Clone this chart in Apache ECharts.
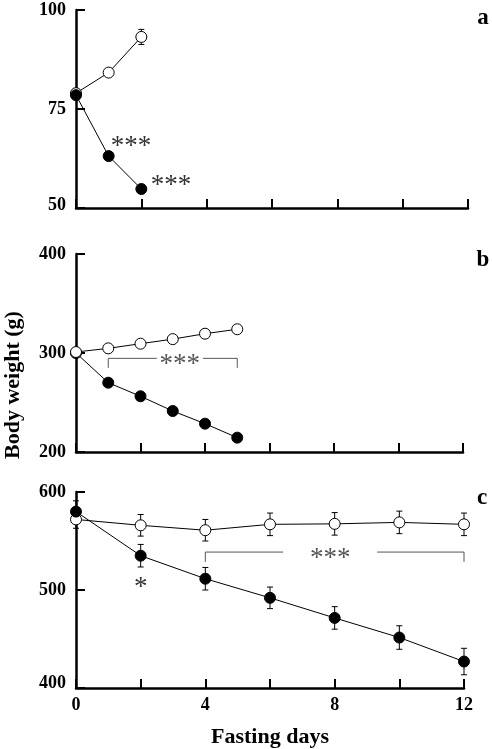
<!DOCTYPE html>
<html><head><meta charset="utf-8">
<script src="https://cdn.jsdelivr.net/npm/echarts@6/dist/echarts.min.js"></script>
<style>html,body{margin:0;padding:0;background:#fff}#c{width:492px;height:749px}</style>
</head><body><div id="c"></div>
<script>
// ---- data ----
var daysA = [0, 1, 2];
var controlA = [79.0, 84.2, 93.2];
var controlAErr = [0, 0, 1.9];
var fastA = [78.5, 63.1, 54.8];
var fastAErr = [0, 0, 0];

var daysB = [0, 1, 2, 3, 4, 5];
var controlB = [301, 304.7, 309.4, 314, 319.5, 324];
var fastB = [300, 270, 256.3, 241.4, 228.6, 214.5];

var daysC = [0, 2, 4, 6, 8, 10, 12];
var controlC = [572, 566, 561, 567, 567.5, 569, 567];
var controlCErr = [9, 11, 11, 11.5, 11.5, 11.5, 11.5];
var fastC = [580, 535, 511.5, 492, 471.5, 451.5, 427];
var fastCErr = [11, 11.5, 11.5, 11, 11.5, 12, 13.5];

var yTicksA = [50, 75, 100];
var yTicksB = [200, 300, 400];
var yTicksC = [400, 500, 600];
var xTickLabels = [0, 4, 8, 12];

var FONT = '"Liberation Serif","DejaVu Serif",serif';
var STARFONT = '27px ' + FONT;

function zip(xs, ys) { return xs.map(function (x, i) { return [x, ys[i]]; }); }
function zip3(xs, ys, es) { return xs.map(function (x, i) { return [x, ys[i], es[i]]; }); }

function errSeries(idx, data) {
  return {
    type: 'custom', xAxisIndex: idx, yAxisIndex: idx, z: 1, silent: true,
    data: data,
    renderItem: function (params, api) {
      var x = api.value(0), y = api.value(1), e = api.value(2);
      if (!e) return null;
      var hi = api.coord([x, y + e]), lo = api.coord([x, y - e]);
      var w = 3;
      var st = { stroke: '#000', lineWidth: 1 };
      return { type: 'group', children: [
        { type: 'line', shape: { x1: hi[0], y1: hi[1], x2: lo[0], y2: lo[1] }, style: st },
        { type: 'line', shape: { x1: hi[0] - w, y1: hi[1], x2: hi[0] + w, y2: hi[1] }, style: st },
        { type: 'line', shape: { x1: lo[0] - w, y1: lo[1], x2: lo[0] + w, y2: lo[1] }, style: st }
      ]};
    }
  };
}

function lineSeries(idx, data, open, z) {
  return {
    type: 'line', xAxisIndex: idx, yAxisIndex: idx, data: data, z: z,
    symbol: 'circle', symbolSize: 11, clip: false, animation: false,
    lineStyle: { color: '#000', width: 1 },
    itemStyle: open ? { color: '#fff', borderColor: '#000', borderWidth: 1 } : { color: '#000', borderColor: '#000', borderWidth: 1 }
  };
}

// bracket annotations: [x1, x2, yTop, yEnd, textX]
var bracketB = [[1, 5, 294.6, 285, 3.22]];
var bracketC = [[4, 12, 538.7, 528.7, 7.86]];

function bracketSeries(idx, data, gapHalf) {
  return {
    type: 'custom', xAxisIndex: idx, yAxisIndex: idx, z: 1, silent: true,
    data: data,
    renderItem: function (params, api) {
      var x1 = api.value(0), x2 = api.value(1), yt = api.value(2), ye = api.value(3), tx = api.value(4);
      var a = api.coord([x1, ye]), b = api.coord([x1, yt]), c = api.coord([x2, yt]), d = api.coord([x2, ye]);
      var t = api.coord([tx, yt]);
      var st = { stroke: '#555', lineWidth: 1, fill: null };
      return { type: 'group', children: [
        { type: 'polyline', shape: { points: [a, b, [t[0] - gapHalf, b[1]]] }, style: st },
        { type: 'polyline', shape: { points: [[t[0] + gapHalf, c[1]], c, d] }, style: st },
        { type: 'text', style: { x: t[0], y: t[1] + 7, text: '***', fill: '#555', font: STARFONT, align: 'center', verticalAlign: 'middle' } }
      ]};
    }
  };
}

// star annotations: [x, y, text]
var starsA = [[1.68, 65.5, '***'], [2.91, 55.6, '***']];
var starsC = [[2, 502, '*']];

function starSeries(idx, data) {
  return {
    type: 'custom', xAxisIndex: idx, yAxisIndex: idx, z: 5, silent: true,
    data: data,
    renderItem: function (params, api) {
      var p = api.coord([api.value(0), api.value(1)]);
      return { type: 'text', style: { x: p[0], y: p[1], text: data[params.dataIndex][2], fill: '#333', font: STARFONT, align: 'center', verticalAlign: 'middle' } };
    }
  };
}

function xAx(idx, showLabels) {
  return {
    type: 'value', gridIndex: idx, min: 0, max: 12, interval: 2,
    axisLine: { show: true, onZero: false, lineStyle: { color: '#000', width: 2.5 } },
    axisTick: { show: true, inside: true, length: 9, lineStyle: { color: '#000', width: 2 } },
    splitLine: { show: false },
    axisLabel: showLabels ? {
      show: true, margin: 8, color: '#000', fontFamily: FONT, fontWeight: 'bold', fontSize: 18,
      formatter: function (v) { return xTickLabels.indexOf(v) >= 0 ? String(v) : ''; }
    } : { show: false },
    name: showLabels ? 'Fasting days' : '', nameLocation: 'middle', nameGap: 38,
    nameTextStyle: { color: '#000', fontFamily: FONT, fontWeight: 'bold', fontSize: 22 }
  };
}

function yAx(idx, ticks, shiftMin) {
  var mn = ticks[0], mx = ticks[ticks.length - 1];
  return {
    type: 'value', gridIndex: idx, min: mn, max: mx, interval: ticks[1] - ticks[0],
    axisLine: { show: true, onZero: false, lineStyle: { color: '#000', width: 2.5 } },
    axisTick: { show: true, inside: true, length: 9, lineStyle: { color: '#000', width: 2 } },
    splitLine: { show: false },
    axisLabel: {
      show: true, margin: 10, color: '#000', fontFamily: FONT, fontWeight: 'bold', fontSize: 18,
      formatter: function (v) { return v === mn && shiftMin ? '{lo|' + v + '}' : String(v); },
      rich: { lo: { fontFamily: FONT, fontWeight: 'bold', fontSize: 18, color: '#000', padding: [0, 0, shiftMin || 0, 0] } }
    }
  };
}

var chart = echarts.init(document.getElementById('c'), null, { renderer: 'canvas' });
chart.setOption({
  animation: false,
  backgroundColor: '#fff',
  grid: [
    { left: 76, top: 10, width: 392, height: 198 },
    { left: 76, top: 254, width: 387, height: 198 },
    { left: 76, top: 492, width: 388, height: 200 }
  ],
  xAxis: [xAx(0, false), xAx(1, false), xAx(2, true)],
  yAxis: [yAx(0, yTicksA, 6), yAx(1, yTicksB, 0), yAx(2, yTicksC, 10)],
  graphic: [
    { type: 'text', x: 13, y: 385, rotation: Math.PI / 2, style: { text: 'Body weight (g)', font: 'bold 22px ' + FONT, fill: '#000', align: 'center', verticalAlign: 'middle' } },
    { type: 'text', x: 483, y: 18, style: { text: 'a', font: 'bold 23px ' + FONT, fill: '#000', align: 'center', verticalAlign: 'middle' } },
    { type: 'text', x: 483, y: 260, style: { text: 'b', font: 'bold 23px ' + FONT, fill: '#000', align: 'center', verticalAlign: 'middle' } },
    { type: 'text', x: 482, y: 498, style: { text: 'c', font: 'bold 23px ' + FONT, fill: '#000', align: 'center', verticalAlign: 'middle' } }
  ],
  series: [
    errSeries(0, zip3(daysA, controlA, controlAErr)),
    errSeries(0, zip3(daysA, fastA, fastAErr)),
    lineSeries(0, zip(daysA, controlA), true, 3),
    lineSeries(0, zip(daysA, fastA), false, 4),
    starSeries(0, starsA),

    lineSeries(1, zip(daysB, fastB), false, 3),
    lineSeries(1, zip(daysB, controlB), true, 4),
    bracketSeries(1, bracketB, 23),

    errSeries(2, zip3(daysC, controlC, controlCErr)),
    errSeries(2, zip3(daysC, fastC, fastCErr)),
    lineSeries(2, zip(daysC, controlC), true, 3),
    lineSeries(2, zip(daysC, fastC), false, 4),
    bracketSeries(2, bracketC, 47),
    starSeries(2, starsC)
  ]
});
</script></body></html>
